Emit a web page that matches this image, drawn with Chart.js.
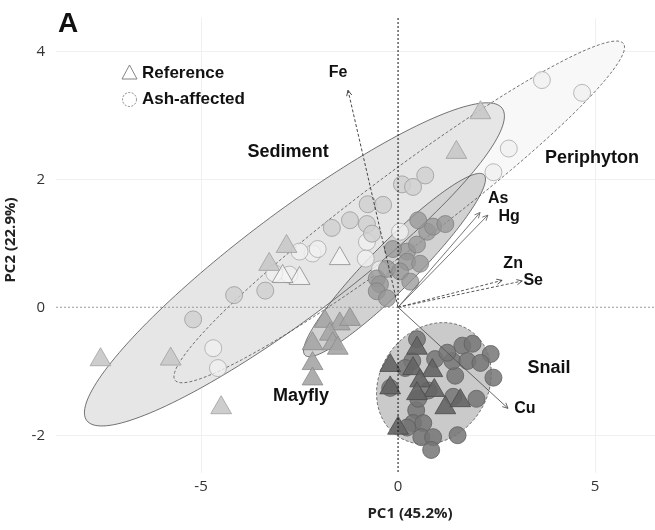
<!DOCTYPE html>
<html>
<head>
<meta charset="utf-8">
<script src="https://cdn.jsdelivr.net/npm/chart.js@4.4.1/dist/chart.umd.min.js"></script>
<style>
  html, body { margin: 0; padding: 0; background: #fff; }
  #wrap { width: 655px; height: 530px; }
</style>
</head>
<body>
<div id="wrap"><canvas id="pca" width="655" height="530"></canvas></div>
<script>
// tick values
const xTicks = [-5, 0, 5];
const yTicks = [-2, 0, 2, 4];

// PCA scores [PC1, PC2] per tissue and site type
const periphytonAsh = [[3.65, 3.55], [4.67, 3.35], [2.81, 2.48], [2.42, 2.11], [-4.69, -0.64], [-4.57, -0.95],
  [-0.79, 1.02], [-0.82, 0.76], [0.05, 1.18], [-2.17, 0.84], [-2.50, 0.87], [-2.76, 0.51], [-3.14, 0.53],
  [-2.04, 0.91], [-0.46, 0.59]];
const periphytonRef = [[-2.50, 0.45], [-1.48, 0.76], [-2.93, 0.48]];

const sedimentAsh = [[-5.20, -0.19], [-4.16, 0.19], [-3.37, 0.26], [-1.68, 1.24], [-1.22, 1.36], [-0.79, 1.30],
  [-0.77, 1.61], [-0.38, 1.60], [0.10, 1.92], [0.38, 1.88], [0.69, 2.06], [-0.66, 1.15]];
const sedimentRef = [[-7.55, -0.82], [-5.77, -0.81], [-4.49, -1.57], [-2.83, 0.95], [-3.27, 0.67], [2.09, 3.04], [1.48, 2.42]];

const mayflyAsh = [[-0.54, 0.45], [-0.46, 0.36], [-0.28, 0.60], [0.23, 0.87], [0.23, 0.71], [0.48, 0.98], [0.74, 1.18],
  [0.89, 1.26], [-0.13, 0.91], [0.05, 0.56], [-0.54, 0.25], [-0.28, 0.14], [1.20, 1.30], [0.51, 1.36], [0.31, 0.40], [0.56, 0.68]];
const mayflyRef = [[-1.86, -0.22], [-1.48, -0.26], [-1.73, -0.42], [-2.17, -0.57], [-1.66, -0.57], [-1.53, -0.64],
  [-2.17, -0.88], [-2.17, -1.12], [-1.22, -0.19]];

const snailAsh = [[0.48, -0.50], [1.63, -0.60], [1.89, -0.57], [2.35, -0.73], [2.42, -1.10], [1.99, -1.43], [1.40, -1.40],
  [1.45, -1.07], [1.38, -0.84], [1.76, -0.84], [0.94, -0.81], [0.36, -0.84], [0.18, -0.95], [-0.20, -1.26], [0.46, -1.61],
  [0.38, -1.81], [0.64, -1.81], [0.23, -1.88], [0.59, -2.03], [0.89, -2.03], [1.51, -2.00], [0.84, -2.23], [0.77, -1.30],
  [0.51, -1.43], [2.09, -0.87], [1.25, -0.71]];
const snailRef = [[0.48, -0.64], [-0.20, -0.91], [-0.20, -1.26], [0.38, -0.96], [0.87, -0.99], [0.56, -1.15], [0.92, -1.30],
  [0.48, -1.35], [1.20, -1.57], [1.58, -1.46], [0.00, -1.89]];

// loadings (arrows from origin)
const loadingNames = ['Fe', 'As', 'Hg', 'Zn', 'Se', 'Cu'];
const loadingPC1 = [-1.27, 2.08, 2.28, 2.64, 3.15, 2.79];
const loadingPC2 = [3.39, 1.48, 1.44, 0.42, 0.41, -1.58];

// group ellipses: centre, major semi-axis vector, minor semi-axis vector
const ellipseGroups = ['Periphyton', 'Sediment', 'Mayfly', 'Snail'];
const ellipseCX = [0.03, -2.63, -0.09, 0.91];
const ellipseCY = [1.49, 0.67, 0.66, -1.19];
const ellipseMajorX = [5.69, 5.27, 2.27, 0.93];
const ellipseMajorY = [2.63, 2.44, 1.41, 0.82];
const ellipseMinorX = [-0.56, -0.79, -0.42, -1.12];
const ellipseMinorY = [0.46, 0.65, 0.25, 0.48];

// --- styling ---
const ellipseFill = ['#f8f8f8', '#e6e6e6', '#d2d2d2', '#cacaca'];
const ellipseDash = [[3, 2], [], [], [3, 2]];
const groupLabelAt = { Sediment: [-2.79, 2.42], Periphyton: [4.92, 2.33], Mayfly: [-2.46, -1.39], Snail: [3.83, -0.95] };
const loadingLabelAt = { Fe: [-1.52, 3.66], As: [2.54, 1.70], Hg: [2.82, 1.41], Zn: [2.92, 0.69], Se: [3.43, 0.41], Cu: [3.22, -1.58] };
const loadingDash = { Fe: [3, 2], As: [], Hg: [], Zn: [3, 2], Se: [3, 2], Cu: [] };
const loadingColor = { Fe: '#333', As: '#666', Hg: '#666', Zn: '#444', Se: '#444', Cu: '#555' };
const boldFont = 'bold {s}px "Liberation Sans", Arial, sans-serif';
function bf(s) { return boldFont.replace('{s}', s); }

function toXY(arr) { return arr.map(p => ({ x: p[0], y: p[1] })); }

function pts(label, data, style, fill, border) {
  return {
    label: label,
    data: toXY(data),
    pointStyle: style,
    pointRadius: style === 'triangle' ? 12 : 8.5,
    pointHoverRadius: style === 'triangle' ? 12 : 8.5,
    pointBackgroundColor: fill,
    pointBorderColor: border,
    pointBorderWidth: 0.8,
    showLine: false
  };
}

// first dataset is painted on top
const datasets = [
  pts('Snail reference', snailRef, 'triangle', 'rgba(100,100,100,0.9)', '#4a4a4a'),
  pts('Snail ash', snailAsh, 'circle', 'rgba(118,118,118,0.85)', '#5e5e5e'),
  pts('Mayfly reference', mayflyRef, 'triangle', 'rgba(165,165,165,0.9)', '#8a8a8a'),
  pts('Mayfly ash', mayflyAsh, 'circle', 'rgba(150,150,150,0.75)', '#808080'),
  pts('Sediment reference', sedimentRef, 'triangle', 'rgba(200,200,200,0.9)', '#a0a0a0'),
  pts('Sediment ash', sedimentAsh, 'circle', 'rgba(208,208,208,0.8)', '#9a9a9a'),
  pts('Periphyton reference', periphytonRef, 'triangle', 'rgba(246,246,246,0.7)', '#8a8a8a'),
  pts('Periphyton ash', periphytonAsh, 'circle', 'rgba(240,240,240,0.8)', '#a8a8a8')
];

const ellipsePlugin = {
  id: 'ellipses',
  beforeDatasetsDraw(chart) {
    const ctx = chart.ctx, xs = chart.scales.x, ys = chart.scales.y;
    const path = (i) => {
      ctx.beginPath();
      for (let k = 0; k <= 180; k++) {
        const t = k / 180 * Math.PI * 2;
        const vx = ellipseCX[i] + ellipseMajorX[i] * Math.cos(t) + ellipseMinorX[i] * Math.sin(t);
        const vy = ellipseCY[i] + ellipseMajorY[i] * Math.cos(t) + ellipseMinorY[i] * Math.sin(t);
        const X = xs.getPixelForValue(vx), Y = ys.getPixelForValue(vy);
        if (k === 0) ctx.moveTo(X, Y); else ctx.lineTo(X, Y);
      }
      ctx.closePath();
    };
    ctx.save();
    ellipseGroups.forEach((g, i) => { path(i); ctx.fillStyle = ellipseFill[i]; ctx.fill(); });
    ellipseGroups.forEach((g, i) => {
      path(i);
      ctx.setLineDash(ellipseDash[i]);
      ctx.strokeStyle = '#505050';
      ctx.lineWidth = 0.8;
      ctx.stroke();
    });
    ctx.restore();
  }
};

const overlayPlugin = {
  id: 'overlay',
  afterDatasetsDraw(chart) {
    const ctx = chart.ctx, xs = chart.scales.x, ys = chart.scales.y, a = chart.chartArea;
    const x0 = xs.getPixelForValue(0), y0 = ys.getPixelForValue(0);
    ctx.save();
    // zero lines
    ctx.lineWidth = 1;
    ctx.setLineDash([2, 2]);
    ctx.strokeStyle = '#9a9a9a';
    ctx.beginPath(); ctx.moveTo(a.left, y0); ctx.lineTo(a.right, y0); ctx.stroke();
    ctx.strokeStyle = '#111';
    ctx.beginPath(); ctx.moveTo(x0, a.top); ctx.lineTo(x0, a.bottom); ctx.stroke();

    // loading arrows
    loadingNames.forEach((n, i) => {
      const tx = xs.getPixelForValue(loadingPC1[i]), ty = ys.getPixelForValue(loadingPC2[i]);
      ctx.setLineDash(loadingDash[n]);
      ctx.strokeStyle = loadingColor[n];
      ctx.lineWidth = 0.9;
      ctx.beginPath(); ctx.moveTo(x0, y0); ctx.lineTo(tx, ty); ctx.stroke();
      const ang = Math.atan2(ty - y0, tx - x0);
      ctx.setLineDash([]);
      ctx.beginPath();
      ctx.moveTo(tx - 6 * Math.cos(ang - 0.45), ty - 6 * Math.sin(ang - 0.45));
      ctx.lineTo(tx, ty);
      ctx.lineTo(tx - 6 * Math.cos(ang + 0.45), ty - 6 * Math.sin(ang + 0.45));
      ctx.stroke();
    });
    ctx.restore();
  },
  afterDraw(chart) {
    const ctx = chart.ctx, xs = chart.scales.x, ys = chart.scales.y;
    ctx.save();
    ctx.fillStyle = '#111';
    ctx.textAlign = 'center';
    ctx.textBaseline = 'middle';

    ctx.font = bf(18);
    Object.keys(groupLabelAt).forEach(k => {
      const p = groupLabelAt[k];
      ctx.fillText(k, xs.getPixelForValue(p[0]), ys.getPixelForValue(p[1]));
    });
    ctx.font = bf(16);
    Object.keys(loadingLabelAt).forEach(k => {
      const p = loadingLabelAt[k];
      ctx.fillText(k, xs.getPixelForValue(p[0]), ys.getPixelForValue(p[1]));
    });

    // panel letter
    ctx.textAlign = 'left';
    ctx.textBaseline = 'alphabetic';
    ctx.font = bf(28);
    ctx.fillText('A', 58, 32);

    // legend
    ctx.strokeStyle = '#777';
    ctx.lineWidth = 0.9;
    ctx.fillStyle = '#fff';
    ctx.beginPath(); ctx.moveTo(129.5, 65); ctx.lineTo(137, 79); ctx.lineTo(122, 79); ctx.closePath();
    ctx.fill(); ctx.stroke();
    ctx.setLineDash([2, 1.5]);
    ctx.beginPath(); ctx.arc(129.5, 99.5, 7, 0, Math.PI * 2); ctx.fill(); ctx.stroke();
    ctx.setLineDash([]);
    ctx.fillStyle = '#111';
    ctx.font = bf(17);
    ctx.textBaseline = 'middle';
    ctx.fillText('Reference', 142, 73);
    ctx.fillText('Ash-affected', 142, 99);

    // axis titles
    ctx.font = 'bold 15px "Open Sans", sans-serif';
    ctx.fillStyle = '#222';
    ctx.textAlign = 'center';
    ctx.fillText('PC1 (45.2%)', 410, 514);
    ctx.translate(11, 240);
    ctx.rotate(-Math.PI / 2);
    ctx.fillText('PC2 (22.9%)', 0, 0);
    ctx.restore();
  }
};

const gridColor = ctx => (ctx.tick && ctx.tick.value === 0) ? 'rgba(0,0,0,0)' : '#f0f0f0';

new Chart(document.getElementById('pca'), {
  type: 'scatter',
  data: { datasets: datasets },
  options: {
    responsive: false,
    animation: false,
    events: [],
    layout: { autoPadding: false, padding: { top: 18, right: 0, left: 0, bottom: 0 } },
    plugins: { legend: { display: false }, tooltip: { enabled: false } },
    scales: {
      x: {
        type: 'linear',
        min: -8.68,
        max: 6.52,
        afterBuildTicks: s => { s.ticks = xTicks.map(v => ({ value: v })); },
        afterFit: s => { s.height = 57; s.paddingLeft = 0; s.paddingRight = 0; },
        grid: { color: gridColor, drawTicks: false },
        border: { display: false },
        ticks: { font: { family: '"Open Sans", sans-serif', size: 15 }, color: '#333', padding: 5 }
      },
      y: {
        type: 'linear',
        min: -2.59,
        max: 4.52,
        afterBuildTicks: s => { s.ticks = yTicks.map(v => ({ value: v })); },
        afterFit: s => { s.width = 56; s.paddingTop = 0; s.paddingBottom = 0; },
        grid: { color: gridColor, drawTicks: false },
        border: { display: false },
        ticks: { font: { family: '"Open Sans", sans-serif', size: 15 }, color: '#333', padding: 11 }
      }
    }
  },
  plugins: [ellipsePlugin, overlayPlugin]
});
</script>
</body>
</html>
